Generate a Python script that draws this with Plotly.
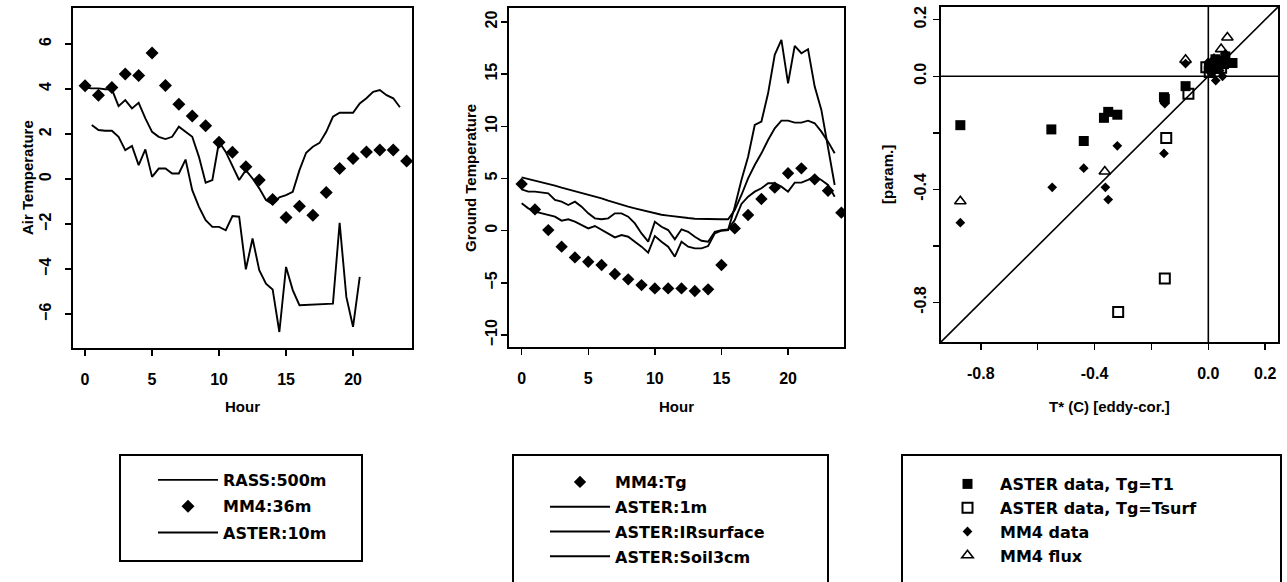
import plotly.graph_objects as go

W, H = 1287, 582

# ---------------- Panel 1: Air temperature ----------------
rass_hours = [0.5, 1, 1.5, 2, 2.5, 3, 3.5, 4, 4.5, 5, 5.5, 6, 6.5, 7, 7.5, 8, 8.5, 9, 9.5, 10,
              10.5, 11, 11.5, 12, 12.5, 13, 13.5, 14, 14.5, 15, 15.5, 16, 18.5, 19, 19.5, 20, 20.5]
rass_500m = [2.40, 2.18, 2.15, 2.15, 1.88, 1.29, 1.47, 0.62, 1.32, 0.10, 0.47, 0.47, 0.25, 0.25, 0.87,
             -0.49, -1.23, -1.82, -2.12, -2.12, -2.27, -1.64, -1.67, -4.01, -2.64, -4.04, -4.64, -4.90,
             -6.79, -3.90, -4.93, -5.60, -5.53, -1.94, -5.23, -6.56, -4.34]

mm4_hours = [0, 1, 2, 3, 4, 5, 6, 7, 8, 9, 10, 11, 12, 13, 14, 15, 16, 17, 18, 19, 20, 21, 22, 23, 24]
mm4_36m = [4.15, 3.73, 4.07, 4.67, 4.60, 5.60, 4.16, 3.33, 2.80, 2.37, 1.64, 1.19, 0.55, -0.04, -0.90,
           -1.70, -1.20, -1.60, -0.59, 0.47, 0.92, 1.21, 1.29, 1.29, 0.80]

aster_hours = [0, 0.5, 1, 1.5, 2, 2.5, 3, 3.5, 4, 4.5, 5, 5.5, 6, 6.5, 7, 7.5, 8, 8.5, 9, 9.5,
               10, 10.5, 11, 11.5, 12, 12.5, 13, 13.5, 14, 14.5, 15, 15.5, 16, 16.5, 17, 17.5,
               18, 18.5, 19, 19.5, 20, 20.5, 21, 21.5, 22, 22.5, 23, 23.5]
aster_10m = [4.07, 4.03, 4.03, 3.99, 3.99, 3.24, 3.51, 3.14, 3.39, 2.70, 2.10, 1.88, 1.78, 1.88, 2.33,
             2.10, 1.88, 0.99, -0.16, -0.04, 1.66, 1.21, 0.55, -0.04, 0.40, 0.03, -0.41, -0.93, -1.11,
             -0.81, -0.71, -0.56, 0.40, 1.17, 1.44, 1.61, 2.10, 2.77, 2.95, 2.95, 2.95, 3.36, 3.59,
             3.88, 3.96, 3.73, 3.59, 3.19]

# ---------------- Panel 2: Ground temperature ----------------
mm4_tg = [4.47, 2.04, 0.06, -1.53, -2.56, -2.97, -3.29, -4.15, -4.66, -5.21, -5.53, -5.53, -5.53,
          -5.78, -5.62, -3.29, 0.22, 1.50, 3.04, 4.12, 5.50, 5.97, 4.92, 3.83, 1.73]
aster_1m = [3.96, 3.74, 3.74, 3.64, 3.58, 2.94, 2.78, 2.46, 2.78, 2.30, 1.66, 1.18, 1.09, 1.18, 1.66,
            1.66, 1.34, 0.70, -0.26, -1.05, 0.86, 0.38, 0.06, -0.83, 0.13, -0.10, -0.58, -0.96, -1.05,
            -0.10, 0.06, 0.13, 1.02, 2.56, 3.26, 3.74, 4.06, 4.54, 4.54, 4.22, 3.74, 4.60, 4.60, 4.86,
            5.18, 4.86, 4.38, 3.26]
aster_irsurface = [2.62, 2.14, 1.82, 1.66, 1.57, 1.34, 0.96, 1.09, 0.86, 0.54, 0.22, 0.45, 0.06, -0.26,
                   -0.64, -0.42, -0.58, -1.05, -1.53, -2.11, -0.51, -1.05, -1.53, -2.49, -1.05, -1.53,
                   -1.69, -1.69, -1.47, -0.26, 0.00, 0.06, 2.30, 4.86, 7.09, 10.13, 10.45, 13.16, 16.84,
                   18.27, 14.12, 17.70, 17.00, 17.38, 13.80, 11.57, 8.05, 4.38]
aster_soil3cm = [5.11, 4.95, 4.86, 4.70, 4.54, 4.31, 4.12, 3.96, 3.80, 3.64, 3.42, 3.26, 3.10, 2.88, 2.68,
                 2.46, 2.30, 2.14, 1.98, 1.79, 1.66, 1.53, 1.44, 1.34, 1.28, 1.21, 1.15, 1.12, 1.12, 1.12,
                 1.09, 1.09, 1.98, 3.42, 5.02, 6.29, 7.41, 8.69, 9.81, 10.54, 10.54, 10.35, 10.35, 10.54,
                 10.29, 9.49, 8.53, 7.41]

# ---------------- Panel 3: T* scatter ----------------
t1_x = [-0.872, -0.552, -0.438, -0.367, -0.352, -0.320, -0.156, -0.153, -0.080, 0.002, 0.014, 0.032,
        0.038, 0.055, 0.085, 0.060, 0.025]
t1_y = [-0.173, -0.188, -0.229, -0.147, -0.126, -0.136, -0.074, -0.080, -0.035, 0.032, 0.037, 0.026,
        0.055, 0.043, 0.047, 0.070, 0.060]
tsurf_x = [-0.148, -0.153, -0.317, -0.070, -0.007, 0.005, 0.045]
tsurf_y = [-0.218, -0.715, -0.834, -0.062, 0.032, 0.015, 0.030]
mm4d_x = [-0.872, -0.549, -0.438, -0.362, -0.352, -0.320, -0.156, -0.153, -0.080, 0.026, 0.010, 0.040,
          0.050, 0.000, 0.030, 0.060]
mm4d_y = [-0.518, -0.393, -0.325, -0.393, -0.436, -0.246, -0.273, -0.097, 0.045, -0.015, 0.010, 0.020,
          0.000, 0.050, 0.060, 0.080]
flux_x = [-0.872, -0.364, -0.080, 0.067, 0.045, 0.020]
flux_y = [-0.442, -0.337, 0.058, 0.137, 0.096, 0.060]

axis_font = "Liberation Sans, Arial, sans-serif"
legend_font = "DejaVu Sans, sans-serif"
BLACK = "black"
line_style = dict(color=BLACK, width=1.9)

fig = go.Figure()

# Panel 1
fig.add_trace(go.Scatter(x=rass_hours, y=rass_500m, mode="lines", line=line_style,
                         name="RASS:500m", legend="legend", legendgroup="a1", xaxis="x", yaxis="y"))
fig.add_trace(go.Scatter(x=mm4_hours, y=mm4_36m, mode="markers",
                         marker=dict(symbol="diamond", size=10, color=BLACK),
                         name="MM4:36m", legend="legend", legendgroup="a2", xaxis="x", yaxis="y"))
fig.add_trace(go.Scatter(x=aster_hours, y=aster_10m, mode="lines", line=line_style,
                         name="ASTER:10m", legend="legend", legendgroup="a3", xaxis="x", yaxis="y"))

# Panel 2
fig.add_trace(go.Scatter(x=mm4_hours, y=mm4_tg, mode="markers",
                         marker=dict(symbol="diamond", size=9.5, color=BLACK),
                         name="MM4:Tg", legend="legend2", legendgroup="b1", xaxis="x2", yaxis="y2"))
fig.add_trace(go.Scatter(x=aster_hours, y=aster_1m, mode="lines", line=line_style,
                         name="ASTER:1m", legend="legend2", legendgroup="b2", xaxis="x2", yaxis="y2"))
fig.add_trace(go.Scatter(x=aster_hours, y=aster_irsurface, mode="lines", line=line_style,
                         name="ASTER:IRsurface", legend="legend2", legendgroup="b3", xaxis="x2", yaxis="y2"))
fig.add_trace(go.Scatter(x=aster_hours, y=aster_soil3cm, mode="lines", line=line_style,
                         name="ASTER:Soil3cm", legend="legend2", legendgroup="b4", xaxis="x2", yaxis="y2"))

# Panel 3
fig.add_trace(go.Scatter(x=t1_x, y=t1_y, mode="markers",
                         marker=dict(symbol="square", size=10, color=BLACK),
                         name="ASTER data, Tg=T1", legend="legend3", xaxis="x3", yaxis="y3"))
fig.add_trace(go.Scatter(x=tsurf_x, y=tsurf_y, mode="markers",
                         marker=dict(symbol="square-open", size=10, color=BLACK, line=dict(width=2, color=BLACK)),
                         name="ASTER data, Tg=Tsurf", legend="legend3", xaxis="x3", yaxis="y3"))
fig.add_trace(go.Scatter(x=mm4d_x, y=mm4d_y, mode="markers",
                         marker=dict(symbol="diamond", size=7.5, color=BLACK),
                         name="MM4 data", legend="legend3", xaxis="x3", yaxis="y3"))
fig.add_trace(go.Scatter(x=flux_x, y=flux_y, mode="markers",
                         marker=dict(symbol="triangle-up-open", size=10, color=BLACK, line=dict(width=1.6, color=BLACK)),
                         name="MM4 flux", legend="legend3", xaxis="x3", yaxis="y3"))

def px_x(p):
    return p / W

def px_y(p):
    return 1 - p / H

base_axis = dict(showline=True, linecolor=BLACK, linewidth=1.7, mirror=True, ticks="outside",
                 ticklen=6, tickwidth=1.5, tickcolor=BLACK, showgrid=False, zeroline=False,
                 tickfont=dict(family=axis_font, size=16, color=BLACK, weight="bold"), fixedrange=True)

xaxis_common = dict(base_axis, ticklabelstandoff=10)
yaxis_common = dict(base_axis, tickangle=-90)

p3_ticks = [-0.8, -0.6, -0.4, -0.2, 0.0, 0.2]
p3_text = ["-0.8", "", "-0.4", "", "0.0", "0.2"]

fig.update_layout(
    width=W, height=H,
    margin=dict(l=0, r=0, t=0, b=0),
    paper_bgcolor="white", plot_bgcolor="white",
    xaxis=dict(xaxis_common, domain=[px_x(73), px_x(412)], range=[-0.9, 24.4],
               tickvals=[0, 5, 10, 15, 20], anchor="y"),
    yaxis=dict(yaxis_common, domain=[px_y(348), px_y(8)], range=[-7.5, 7.6], ticklabelstandoff=8,
               tickvals=[-6, -4, -2, 0, 2, 4, 6], anchor="x"),
    xaxis2=dict(xaxis_common, domain=[px_x(509), px_x(844)], range=[-0.95, 24.2],
                tickvals=[0, 5, 10, 15, 20], anchor="y2"),
    yaxis2=dict(yaxis_common, domain=[px_y(347), px_y(8)], range=[-11.14, 21.33], ticklabelstandoff=-2,
                tickvals=[-10, -5, 0, 5, 10, 15, 20], anchor="x2"),
    xaxis3=dict(xaxis_common, domain=[px_x(941), px_x(1278)], range=[-0.94, 0.245],
                tickvals=p3_ticks, ticktext=p3_text, anchor="y3"),
    yaxis3=dict(yaxis_common, domain=[px_y(342), px_y(7)], range=[-0.94, 0.245], ticklabelstandoff=1,
                tickvals=p3_ticks, ticktext=p3_text, anchor="x3"),
    showlegend=True,
)

legend_common = dict(xanchor="left", yanchor="top", bgcolor="rgba(0,0,0,0)", borderwidth=0,
                     font=dict(family=legend_font, size=16, color=BLACK, weight="bold"),
                     orientation="v")
fig.update_layout(
    legend=dict(legend_common, x=px_x(153), y=px_y(463), itemwidth=60,
                traceorder="grouped", tracegroupgap=2.5),
    legend2=dict(legend_common, x=px_x(545), y=px_y(465), itemwidth=60,
                 traceorder="grouped", tracegroupgap=1),
    legend3=dict(legend_common, x=px_x(935), y=px_y(467), itemwidth=55, traceorder="normal"),
)

# Reference lines in panel 3
shapes = [
    dict(type="line", xref="x3", yref="y3", x0=-0.94, y0=0, x1=0.245, y1=0, line=dict(color=BLACK, width=1.6)),
    dict(type="line", xref="x3", yref="y3", x0=0, y0=-0.94, x1=0, y1=0.245, line=dict(color=BLACK, width=1.6)),
    dict(type="line", xref="x3", yref="y3", x0=-0.94, y0=-0.94, x1=0.245, y1=0.245, line=dict(color=BLACK, width=1.6)),
]
# Legend frames
for (l, t, r, b) in [(120, 455, 362, 561), (513, 455, 828, 600), (902, 455, 1281, 600)]:
    shapes.append(dict(type="rect", xref="paper", yref="paper", x0=px_x(l), x1=px_x(r),
                       y0=px_y(b), y1=px_y(t), line=dict(color=BLACK, width=2), fillcolor="rgba(0,0,0,0)"))
fig.update_layout(shapes=shapes)

title_font = dict(family=axis_font, size=15, color=BLACK, weight="bold")
annots = [
    ("Air Temperature", 27, 178, -90),
    ("Ground Temperature", 470, 178, -90),
    ("[param.]", 887, 175, -90),
    ("Hour", 242, 406, 0),
    ("Hour", 676, 406, 0),
    ("T* (C) [eddy-cor.]", 1109, 406, 0),
]
for text, x, y, ang in annots:
    fig.add_annotation(text=text, x=px_x(x), y=px_y(y), xref="paper", yref="paper",
                       showarrow=False, textangle=ang, xanchor="center", yanchor="middle",
                       font=title_font)

fig.write_html("out.html", config={"displayModeBar": False, "staticPlot": True},
               post_script="document.body.style.margin='0';document.body.style.overflow='hidden';")
